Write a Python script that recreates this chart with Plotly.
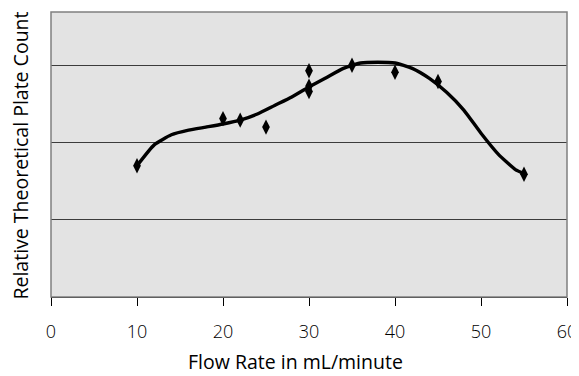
import plotly.graph_objects as go

# measured points
flow_pts = [10, 20, 22, 25, 30, 30, 30, 35, 40, 45, 55]
plate_pts = [1.70, 2.31, 2.29, 2.20, 2.93, 2.73, 2.66, 3.00, 2.91, 2.79, 1.59]

# smoothed trend curve
flow_curve = [10, 12, 14, 16, 18, 20, 22, 24, 26, 28, 30, 32, 34, 36, 38, 40, 42, 44, 46, 48, 50, 52, 54, 55]
plate_curve = [1.70, 1.97, 2.10, 2.16, 2.20, 2.24, 2.29, 2.37, 2.48, 2.59, 2.72, 2.84, 2.96, 3.03, 3.04, 3.03, 2.96, 2.83, 2.65, 2.42, 2.12, 1.85, 1.65, 1.60]

x_ticks = [0, 10, 20, 30, 40, 50, 60]

x_title = "Flow Rate in mL/minute"
y_title = "Relative Theoretical Plate Count"

fig = go.Figure()
fig.add_trace(go.Scatter(x=flow_curve, y=plate_curve, mode="lines",
                         line=dict(color="black", width=3.4, shape="spline", smoothing=0.5),
                         hoverinfo="skip", showlegend=False))
fig.add_trace(go.Scatter(x=flow_pts, y=plate_pts, mode="markers",
                         marker=dict(symbol="diamond-tall", size=11, color="black"),
                         showlegend=False))

fig.update_layout(
    width=571, height=368,
    margin=dict(l=43, r=12, t=4, b=79),
    paper_bgcolor="white", plot_bgcolor="#e3e3e3",
    font=dict(family="Open Sans", color="black"),
    xaxis=dict(range=[0, 60], tickvals=x_ticks, ticktext=[str(v) for v in x_ticks],
               ticks="outside", ticklen=8, tickcolor="black", tickwidth=1,
               showline=True, linecolor="black", linewidth=1,
               showgrid=False, zeroline=False, automargin=False,
               tickfont=dict(family="Open Sans", size=18, weight=300, color="black"),
               ticklabelstandoff=10),
    yaxis=dict(range=[0, 3.69], dtick=1, showticklabels=False, ticks="",
               showgrid=True, gridcolor="#3c3c3c", gridwidth=1, zeroline=False, automargin=False),
    shapes=[dict(type="rect", xref="paper", yref="paper", x0=0, x1=1, y0=0, y1=1,
                 line=dict(color="#808080", width=1.5), fillcolor="rgba(0,0,0,0)", layer="above")],
    annotations=[
        dict(text=x_title, xref="paper", yref="paper", x=0.473, y=-0.226,
             xanchor="center", yanchor="middle", showarrow=False,
             font=dict(family="Open Sans", size=19.5, color="black")),
        dict(text=y_title, xref="paper", yref="paper", x=-0.06, y=0.4965,
             xanchor="center", yanchor="middle", showarrow=False, textangle=-90,
             font=dict(family="Open Sans", size=19.5, color="black")),
    ],
)

fig.write_html("out.html")
